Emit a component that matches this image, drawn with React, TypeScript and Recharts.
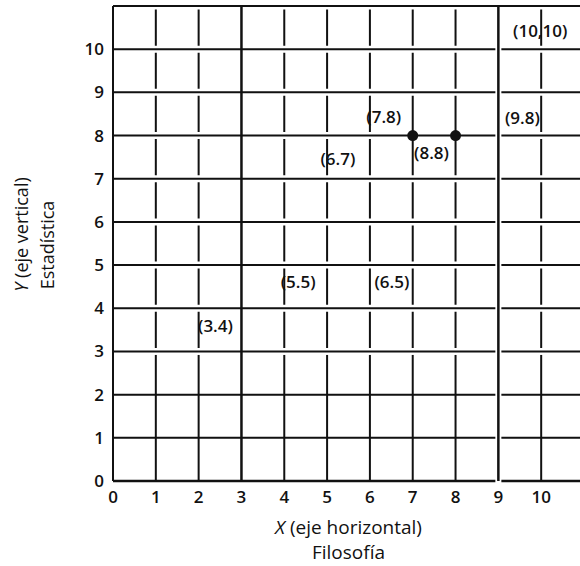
import React from "react";
import { ScatterChart, Scatter, XAxis, YAxis, ReferenceLine } from "recharts";

// valores
const ticksX = [0, 1, 2, 3, 4, 5, 6, 7, 8, 9, 10];
const ticksY = [0, 1, 2, 3, 4, 5, 6, 7, 8, 9, 10];
const puntosX = [3, 5, 6, 6, 7, 8, 9, 10];
const puntosY = [4, 5, 5, 7, 8, 8, 8, 10];
const etiquetas = ["(3.4)", "(5.5)", "(6.5)", "(6.7)", "(7.8)", "(8.8)", "(9.8)", "(10,10)"];
const marcadosX = [7, 8];
const marcadosY = [8, 8];
const tituloX = ["(eje horizontal)", "Filosofía"];
const tituloY = ["(eje vertical)", "Estadística"];

const puntos = puntosX.map((x, i) => ({ x, y: puntosY[i], label: etiquetas[i] }));
const marcados = marcadosX.map((x, i) => ({ x, y: marcadosY[i] }));

// desplazamiento de cada etiqueta respecto a su punto (px)
const offsets: Record<string, [number, number]> = {
  "(3.4)": [-26, 18],
  "(5.5)": [-29, 17],
  "(6.5)": [22, 17],
  "(6.7)": [-32, -20],
  "(7.8)": [-29, -19],
  "(8.8)": [-24, 17],
  "(9.8)": [24, -18],
  "(10,10)": [-1, -18],
};

const W = 600;
const H = 566;
const LEFT = 113;
const TOP = 6;
const RIGHT = 16;
const XH = 85;
const plotW = W - LEFT - RIGHT;
const plotH = H - TOP - XH;
const unitX = plotW / 11;
const unitY = plotH / 11;

const FONT = "'Open Sans', 'Noto Sans', sans-serif";
const INK = "#111";

const XTick = ({ x, y, payload }: any) => (
  <text x={x} y={y + 22} textAnchor="middle" fontFamily={FONT} fontSize={17} fontWeight={600} fill={INK}>
    {payload.value}
  </text>
);

const YTick = ({ x, y, payload }: any) => (
  <text x={x - 9} y={y + 6} textAnchor="end" fontFamily={FONT} fontSize={17} fontWeight={600} fill={INK}>
    {payload.value}
  </text>
);

const XTitle = ({ viewBox }: any) => {
  const cx = viewBox.x + viewBox.width / 2;
  return (
    <g fontFamily={FONT} fontSize={19} fontWeight={500} fill={INK}>
      <text x={cx} y={viewBox.y + 53} textAnchor="middle">
        <tspan fontStyle="italic">X</tspan> {tituloX[0]}
      </text>
      <text x={cx} y={viewBox.y + 78} textAnchor="middle">
        {tituloX[1]}
      </text>
    </g>
  );
};

const YTitle = ({ viewBox }: any) => {
  const cy = viewBox.y + viewBox.height / 2;
  const c1 = cy - 9;
  const c2 = cy + 1.5;
  return (
    <g fontFamily={FONT} fontSize={18} fontWeight={500} fill={INK}>
      <text x={28} y={c1} textAnchor="middle" transform={`rotate(-90, 28, ${c1})`}>
        <tspan fontStyle="italic">Y</tspan> {tituloY[0]}
      </text>
      <text x={54} y={c2} textAnchor="middle" transform={`rotate(-90, 54, ${c2})`}>
        {tituloY[1]}
      </text>
    </g>
  );
};

const Etiqueta = (props: any) => {
  const { cx, cy, payload } = props;
  const [dx, dy] = offsets[payload.label] || [0, 0];
  return (
    <text
      x={cx + dx}
      y={cy + dy + 6}
      textAnchor="middle"
      fontFamily={FONT}
      fontSize={17}
      fontWeight={600}
      fill={INK}
    >
      {payload.label}
    </text>
  );
};

const Punto = ({ cx, cy }: any) => <circle cx={cx} cy={cy} r={5.5} fill={INK} />;

export default function App() {
  // las líneas verticales se cortan en cada horizontal a partir de y = 3
  const vDash = `0 3.5 ${unitY - 7} 3.5`;
  const vLow = `${3 * unitY - 3.5} ${W}`;
  const hDash = `${9 * unitX - 3} 6 ${W}`;
  const solidas = [0, 3, 9];
  return (
    <div
      style={{
        position: "absolute",
        left: 0,
        top: 0,
        width: 580,
        height: 566,
        overflow: "hidden",
        background: "#fff",
      }}
    >
      <ScatterChart width={W} height={H} margin={{ top: TOP, right: RIGHT, bottom: 0, left: 0 }}>
        <XAxis
          type="number"
          dataKey="x"
          domain={[0, 11]}
          ticks={ticksX}
          interval={0}
          height={XH}
          axisLine={false}
          tickLine={false}
          tickSize={0}
          tickMargin={0}
          tick={<XTick />}
          label={{ content: (p: any) => <XTitle viewBox={p.viewBox} /> }}
        />
        <YAxis
          type="number"
          dataKey="y"
          domain={[0, 11]}
          ticks={ticksY}
          interval={0}
          width={LEFT}
          axisLine={false}
          tickLine={false}
          tickSize={0}
          tickMargin={0}
          tick={<YTick />}
          label={{ content: (p: any) => <YTitle viewBox={p.viewBox} /> }}
        />
        {[...ticksY, 11].map((v) => (
          <ReferenceLine
            key={`h${v}`}
            y={v}
            stroke={INK}
            strokeWidth={v === 0 ? 2.5 : 2}
            strokeDasharray={v === 11 ? undefined : hDash}
          />
        ))}
        {ticksX.map((v) =>
          solidas.includes(v) ? (
            <ReferenceLine key={`v${v}`} x={v} stroke={INK} strokeWidth={v === 0 ? 2 : 2.5} />
          ) : (
            <React.Fragment key={`v${v}`}>
              <ReferenceLine
                segment={[{ x: v, y: 0 }, { x: v, y: 3 }]}
                stroke={INK}
                strokeWidth={2}
                strokeDasharray={vLow}
              />
              <ReferenceLine
                segment={[{ x: v, y: 3 }, { x: v, y: 11 }]}
                stroke={INK}
                strokeWidth={2}
                strokeDasharray={vDash}
              />
            </React.Fragment>
          )
        )}
        <Scatter data={puntos} shape={<Etiqueta />} isAnimationActive={false} />
        <Scatter data={marcados} shape={<Punto />} isAnimationActive={false} />
      </ScatterChart>
    </div>
  );
}
